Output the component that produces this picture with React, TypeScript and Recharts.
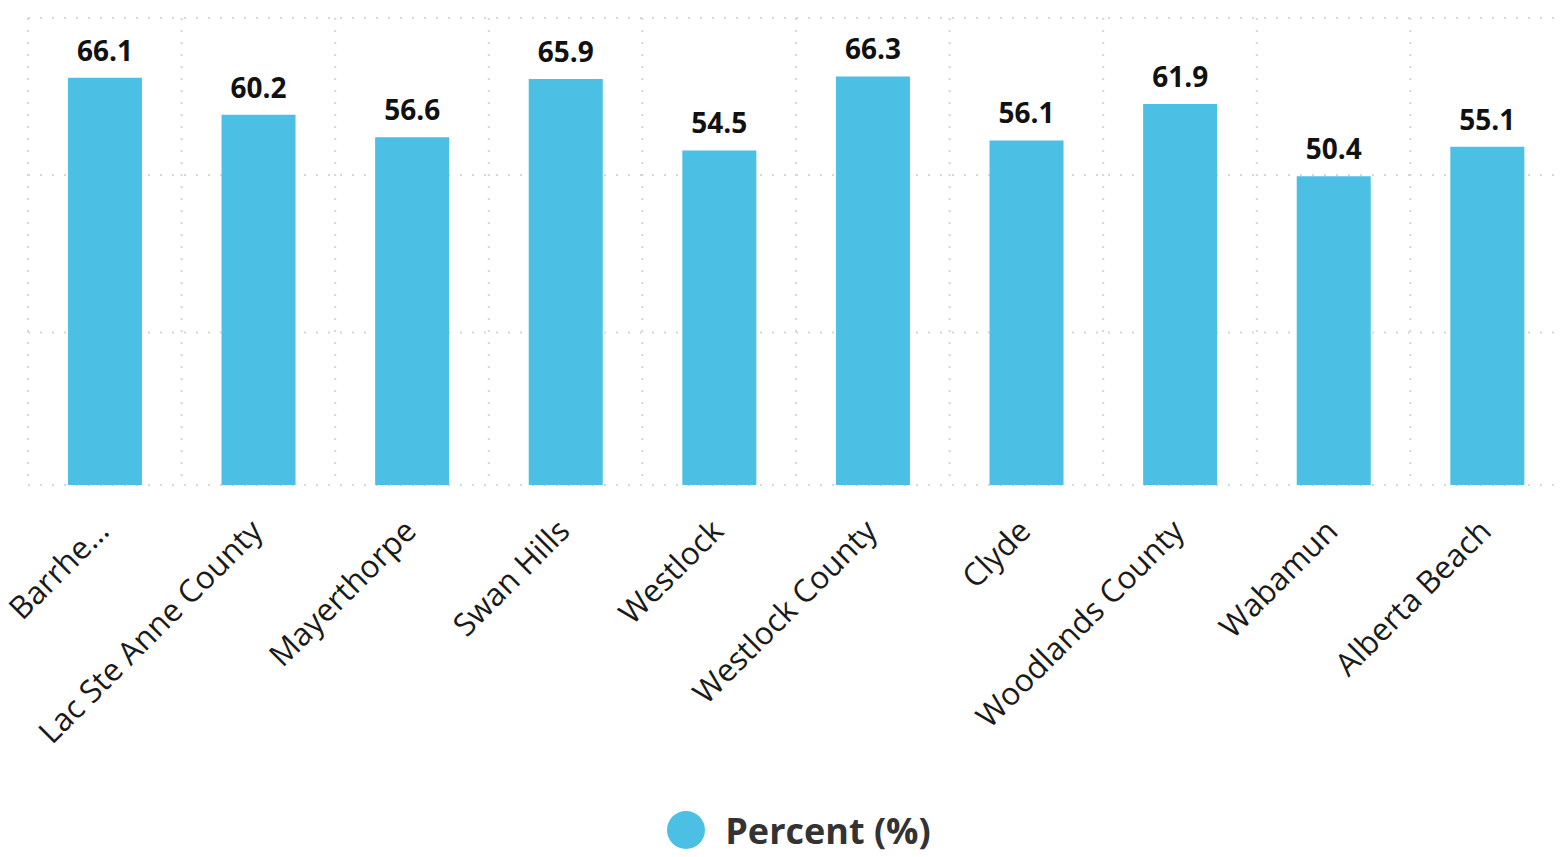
import React from 'react';
import { BarChart, Bar, XAxis, YAxis, CartesianGrid, LabelList, Legend } from 'recharts';

const places = [
  'Barrhe…',
  'Lac Ste Anne County',
  'Mayerthorpe',
  'Swan Hills',
  'Westlock',
  'Westlock County',
  'Clyde',
  'Woodlands County',
  'Wabamun',
  'Alberta Beach',
];
const percent = [66.1, 60.2, 56.6, 65.9, 54.5, 66.3, 56.1, 61.9, 50.4, 55.1];
const yTicks = [1.2, 25.5, 50.6, 75.6];

const data = places.map((place, i) => ({ place, percent: percent[i] }));

const BLUE = '#4bbfe4';
const FONT = '"Open Sans", sans-serif';

function SlantTick({ x, y, payload }: any) {
  const ax = x + 6;
  const ay = y + 40;
  return (
    <text
      x={ax}
      y={ay}
      transform={`rotate(-45, ${ax}, ${ay})`}
      textAnchor="end"
      fontFamily={FONT}
      fontSize={31.5}
      fill="#1a1a1a"
    >
      {payload.value}
    </text>
  );
}

function LegendBox() {
  return (
    <div
      style={{
        height: 62,
        display: 'flex',
        alignItems: 'center',
        justifyContent: 'center',
        fontFamily: FONT,
        paddingTop: 8,
        boxSizing: 'border-box',
      }}
    >
      <span
        style={{
          width: 38,
          height: 38,
          borderRadius: '50%',
          background: BLUE,
          display: 'inline-block',
          marginRight: 20,
          marginLeft: 6,
        }}
      />
      <span style={{ fontSize: 36, fontWeight: 700, color: '#333' }}>Percent (%)</span>
    </div>
  );
}

export default function App() {
  return (
    <div style={{ position: 'absolute', left: 0, top: 0, background: '#fff' }}>
      <BarChart
        width={1564}
        height={857}
        data={data}
        margin={{ top: 18, right: 0, bottom: 0, left: 28 }}
        barCategoryGap="26%"
      >
        <CartesianGrid
          stroke="#d6d6d6"
          strokeWidth={2}
          strokeDasharray="2 10"
          verticalCoordinatesGenerator={({ offset }: any) =>
            places.map((_, i) => offset.left + (offset.width / places.length) * i)
          }
        />
        <XAxis
          dataKey="place"
          interval={0}
          height={310}
          axisLine={false}
          tickLine={false}
          tick={<SlantTick />}
        />
        <YAxis hide domain={[yTicks[0], yTicks[yTicks.length - 1]]} ticks={yTicks} allowDataOverflow />
        <Legend verticalAlign="bottom" content={() => <LegendBox />} />
        <Bar dataKey="percent" fill={BLUE} isAnimationActive={false}>
          <LabelList
            dataKey="percent"
            position="top"
            offset={17}
            fontFamily={FONT}
            fontSize={28}
            fontWeight={700}
            fill="#111"
          />
        </Bar>
      </BarChart>
    </div>
  );
}
